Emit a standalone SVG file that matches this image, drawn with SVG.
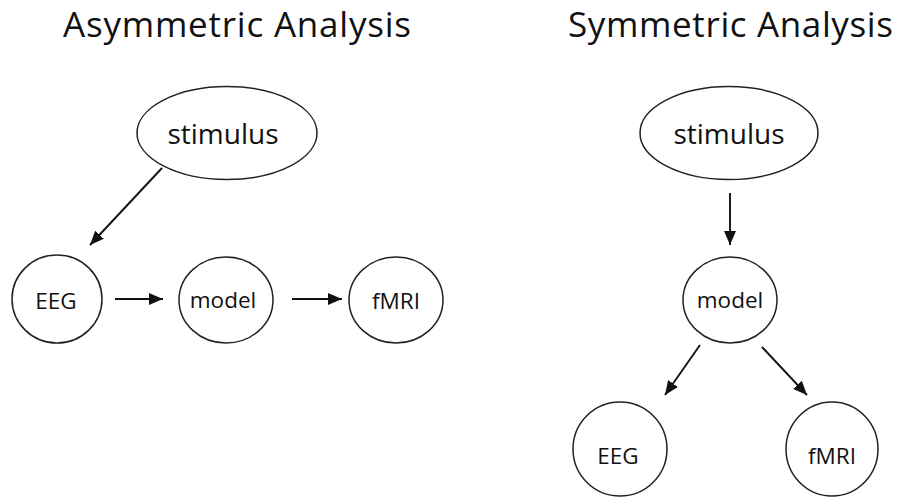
<svg xmlns="http://www.w3.org/2000/svg" width="899" height="498" viewBox="0 0 899 498">
<style>
.title{font-family:"Open Sans","Liberation Sans",sans-serif;font-size:35px;fill:#111}
.lbl{font-family:"Open Sans","Liberation Sans",sans-serif;font-size:22.5px;fill:#111;text-anchor:middle;dominant-baseline:central}
.big{font-size:28px}
.node{fill:#fff;stroke:#222;stroke-width:1.5}
.edge{stroke:#111;stroke-width:1.9;fill:none;marker-end:url(#ah)}
</style>
<defs>
<marker id="ah" viewBox="0 0 14 12" refX="14" refY="6" markerWidth="14" markerHeight="12" markerUnits="userSpaceOnUse" orient="auto">
<path d="M0,0 L14,6 L0,12 z" fill="#111"/>
</marker>
</defs>
<rect width="899" height="498" fill="#fff"/>
<text class="title" x="63" y="37" textLength="348" lengthAdjust="spacing">Asymmetric Analysis</text>
<text class="title" x="568" y="37" textLength="325" lengthAdjust="spacing">Symmetric Analysis</text>
<g id="a-stimulus"><ellipse class="node" cx="227" cy="133" rx="90" ry="46.5"/><text class="lbl big" x="223" y="133">stimulus</text></g>
<g id="a-eeg"><ellipse class="node" cx="57" cy="299" rx="45" ry="44"/><text class="lbl" x="56" y="300">EEG</text></g>
<g id="a-model"><ellipse class="node" cx="226" cy="300" rx="47" ry="43"/><text class="lbl" x="223" y="299">model</text></g>
<g id="a-fmri"><ellipse class="node" cx="396" cy="300" rx="47" ry="43"/><text class="lbl" x="396" y="300">fMRI</text></g>
<g id="s-stimulus"><ellipse class="node" cx="729" cy="133" rx="89" ry="46.5"/><text class="lbl big" x="729" y="133">stimulus</text></g>
<g id="s-model"><ellipse class="node" cx="730" cy="300" rx="47" ry="43"/><text class="lbl" x="730" y="299">model</text></g>
<g id="s-eeg"><ellipse class="node" cx="620" cy="449" rx="47" ry="47"/><text class="lbl" x="618" y="455">EEG</text></g>
<g id="s-fmri"><ellipse class="node" cx="832" cy="449" rx="46" ry="47"/><text class="lbl" x="832" y="455">fMRI</text></g>
<g id="connectors">
<line class="edge" x1="162" y1="168" x2="90" y2="245"/>
<line class="edge" x1="115" y1="299" x2="163" y2="299"/>
<line class="edge" x1="292" y1="299" x2="342" y2="299"/>
<line class="edge" x1="730" y1="193" x2="730" y2="245"/>
<line class="edge" x1="700" y1="345" x2="665" y2="395"/>
<line class="edge" x1="762" y1="347" x2="807" y2="395"/>
</g>
</svg>
